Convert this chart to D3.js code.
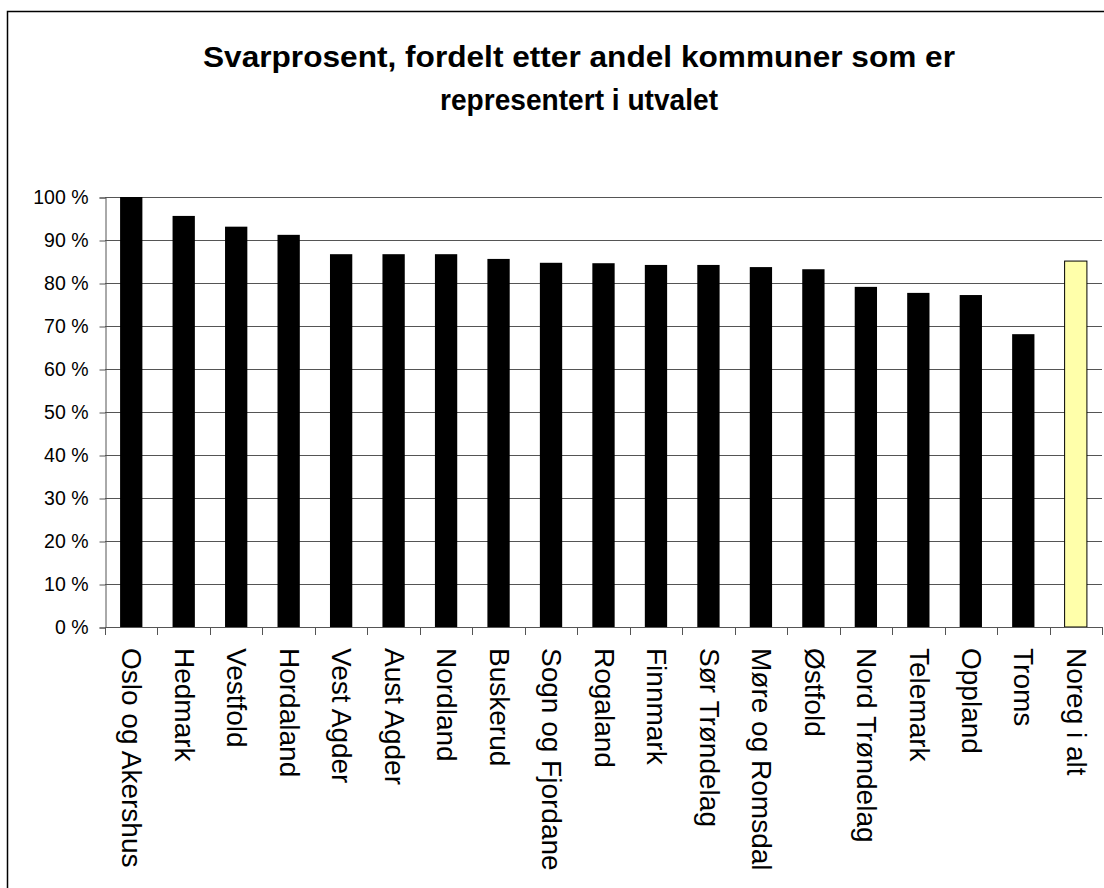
<!DOCTYPE html>
<html>
<head>
<meta charset="utf-8">
<script src="https://cdn.jsdelivr.net/npm/d3@7"></script>
<style>
  body { margin: 0; background: #fff; }
  svg { display: block; font-family: "Liberation Sans", Arial, sans-serif; }
</style>
</head>
<body>
<div id="chart"></div>
<script>
const titleLines = ['Svarprosent, fordelt etter andel kommuner som er', 'representert i utvalet'];
const fylker = ['Oslo og Akershus', 'Hedmark', 'Vestfold', 'Hordaland', 'Vest Agder', 'Aust Agder',
  'Nordland', 'Buskerud', 'Sogn og Fjordane', 'Rogaland', 'Finnmark', 'Sør Trøndelag',
  'Møre og Romsdal', 'Østfold', 'Nord Trøndelag', 'Telemark', 'Oppland', 'Troms', 'Noreg i alt'];
const svarprosent = [100, 95.6, 93.1, 91.2, 86.7, 86.7, 86.7, 85.6, 84.7, 84.6, 84.2, 84.2,
  83.7, 83.2, 79.1, 77.7, 77.2, 68.1, 85.1];
const yTicks = [0, 10, 20, 30, 40, 50, 60, 70, 80, 90, 100];
const totalLabel = 'Noreg i alt';

const width = 1104, height = 888;
const plot = {l: 105, r: 1102, t: 197, b: 627};

const svg = d3.select('#chart').append('svg')
  .attr('width', width).attr('height', height);

// outer frame (runs off the picture on right and bottom)
svg.append('rect')
  .attr('x', 7.5).attr('y', 11.5)
  .attr('width', 1200).attr('height', 1000)
  .attr('fill', 'none').attr('stroke', '#000').attr('stroke-width', 1.5);

// title - reference face is a bit narrower/taller, so stretch to its measured widths
const titleWidths = [752, 278];
svg.append('g')
  .selectAll('text').data(titleLines).join('text')
  .attr('text-anchor', 'middle')
  .attr('font-weight', 'bold').attr('font-size', 30)
  .attr('x', 579).attr('y', (d, i) => 67 + i * 43)
  .attr('textLength', (d, i) => titleWidths[i])
  .attr('lengthAdjust', 'spacingAndGlyphs')
  .text(d => d);

const x = d3.scaleBand().domain(fylker).range([plot.l, plot.r]).paddingInner(0.575).paddingOuter(0.2875);
const xb = d3.scaleBand().domain(fylker).range([plot.l, plot.r]);
const y = d3.scaleLinear().domain([0, 100]).range([plot.b, plot.t]);

// gridlines
svg.append('g')
  .selectAll('line').data(yTicks.slice(1)).join('line')
  .attr('x1', plot.l).attr('x2', plot.r)
  .attr('y1', d => Math.round(y(d)) + 0.5).attr('y2', d => Math.round(y(d)) + 0.5)
  .attr('stroke', '#555').attr('stroke-width', 1);

// y axis
const yAxis = svg.append('g')
  .attr('transform', `translate(${plot.l + 0.5}, 0.5)`)
  .call(d3.axisLeft(y).tickValues(yTicks).tickSize(6).tickPadding(11).tickFormat(d => d + ' %'));
yAxis.select('.domain').attr('stroke', '#555');
yAxis.selectAll('.tick line').attr('stroke', '#555');
yAxis.selectAll('text').attr('font-size', 19.5).attr('fill', '#000')
  .attr('font-family', '"Liberation Sans", Arial, sans-serif');

// bars
svg.append('g')
  .selectAll('rect').data(fylker).join('rect')
  .attr('x', d => x(d))
  .attr('width', x.bandwidth())
  .attr('y', (d, i) => y(svarprosent[i]))
  .attr('height', (d, i) => y(0) - y(svarprosent[i]))
  .attr('fill', d => d === totalLabel ? '#ffffaa' : '#000')
  .attr('stroke', '#000').attr('stroke-width', d => d === totalLabel ? 1 : 0);

// x axis: category boundary ticks
const bounds = fylker.map(d => xb(d)).concat([plot.r]);
const xg = svg.append('g');
xg.append('line')
  .attr('x1', plot.l).attr('x2', plot.r)
  .attr('y1', plot.b + 0.5).attr('y2', plot.b + 0.5)
  .attr('stroke', '#555');
xg.selectAll('line.tk').data(bounds).join('line').attr('class', 'tk')
  .attr('x1', d => Math.round(d) + 0.5).attr('x2', d => Math.round(d) + 0.5)
  .attr('y1', plot.b).attr('y2', plot.b + 8)
  .attr('stroke', '#555');

// rotated labels reading downward
xg.selectAll('text').data(fylker).join('text')
  .attr('transform', d => `translate(${xb(d) + xb.bandwidth() / 2 + 1}, ${plot.b + 21}) rotate(90)`)
  .attr('dy', '0.35em')
  .attr('font-size', 28)
  .attr('fill', '#000')
  .text(d => d);
</script>
</body>
</html>
